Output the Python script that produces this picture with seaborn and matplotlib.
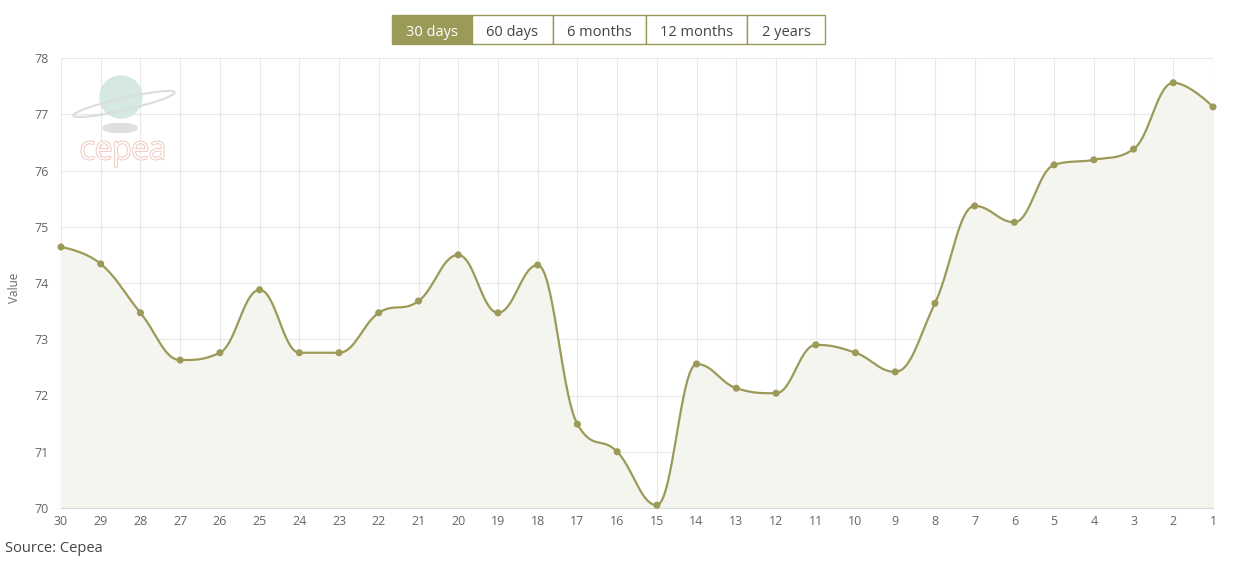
import numpy as np
import pandas as pd
import matplotlib
matplotlib.use("Agg")
import matplotlib.pyplot as plt
import matplotlib.patheffects as pe
from matplotlib.patches import Rectangle, Circle, Ellipse
import seaborn as sns

# data (days back from today)
days = [30, 29, 28, 27, 26, 25, 24, 23, 22, 21, 20, 19, 18, 17, 16,
        15, 14, 13, 12, 11, 10, 9, 8, 7, 6, 5, 4, 3, 2, 1]
values = [74.64, 74.34, 73.47, 72.63, 72.76, 73.88, 72.76, 72.76, 73.47, 73.68,
          74.50, 73.47, 74.32, 71.49, 71.00, 70.05, 72.56, 72.13, 72.04, 72.90,
          72.76, 72.42, 73.64, 75.37, 75.08, 76.10, 76.19, 76.38, 77.56, 77.13]
buttons = ["30 days", "60 days", "6 months", "12 months", "2 years"]
y_ticks = [70, 71, 72, 73, 74, 75, 76, 77, 78]

OLIVE = "#9c9a58"
GRID = "#e8e8e8"
TEXT = "#666666"


def spline_path(xs, ys, smoothing=1.5, n=20):
    # highcharts-like spline through the points
    denom = smoothing + 1
    m = len(xs)
    lc = [(xs[i], ys[i]) for i in range(m)]
    rc = [(xs[i], ys[i]) for i in range(m)]
    for i in range(1, m - 1):
        x, y = xs[i], ys[i]
        lx, ly = xs[i - 1], ys[i - 1]
        nx, ny = xs[i + 1], ys[i + 1]
        lcx = (smoothing * x + lx) / denom
        lcy = (smoothing * y + ly) / denom
        rcx = (smoothing * x + nx) / denom
        rcy = (smoothing * y + ny) / denom
        corr = (rcy - lcy) * (rcx - x) / (rcx - lcx) + y - rcy
        lcy += corr
        rcy += corr
        if lcy > ly and lcy > y:
            lcy = max(ly, y)
            rcy = 2 * y - lcy
        elif lcy < ly and lcy < y:
            lcy = min(ly, y)
            rcy = 2 * y - lcy
        if rcy > ny and rcy > y:
            rcy = max(ny, y)
            lcy = 2 * y - rcy
        elif rcy < ny and rcy < y:
            rcy = min(ny, y)
            lcy = 2 * y - rcy
        lc[i] = (lcx, lcy)
        rc[i] = (rcx, rcy)
    t = np.linspace(0, 1, n)
    px, py = [], []
    for i in range(m - 1):
        p0 = np.array([xs[i], ys[i]])
        p1 = np.array(rc[i])
        p2 = np.array(lc[i + 1])
        p3 = np.array([xs[i + 1], ys[i + 1]])
        seg = ((1 - t) ** 3)[:, None] * p0 + (3 * (1 - t) ** 2 * t)[:, None] * p1 \
            + (3 * (1 - t) * t ** 2)[:, None] * p2 + (t ** 3)[:, None] * p3
        if i > 0:
            seg = seg[1:]
        px.extend(seg[:, 0])
        py.extend(seg[:, 1])
    return np.array(px), np.array(py)


sns.set_style("white")
plt.rcParams["font.family"] = ["Open Sans", "DejaVu Sans"]

fig = plt.figure(figsize=(12.41, 5.76), dpi=100)
ax = fig.add_axes([61 / 1241, 1 - 508 / 576, (1213 - 61) / 1241, (508 - 58) / 576])

pos = np.arange(len(days))
df = pd.DataFrame({"pos": pos, "value": values})
sx, sy = spline_path(pos.astype(float), np.array(values, dtype=float))
smooth = pd.DataFrame({"pos": sx, "value": sy})

ax.fill_between(sx, sy, 70, color="#f5f5f0", zorder=1)
sns.lineplot(data=smooth, x="pos", y="value", color=OLIVE, lw=1.6, ax=ax, zorder=3, sort=False)
sns.scatterplot(data=df, x="pos", y="value", color=OLIVE, s=26, edgecolor="none", ax=ax,
                zorder=4, clip_on=False)

ax.set_xlim(0, len(days) - 1)
ax.set_ylim(70, 78)
ax.set_xticks(pos)
ax.set_xticklabels([str(d) for d in days])
ax.set_yticks(y_ticks)
ax.grid(True, color=GRID, lw=0.8, zorder=0)
ax.set_axisbelow(True)
for s in ["top", "right", "left"]:
    ax.spines[s].set_visible(False)
ax.spines["bottom"].set_color("#d8d8d8")
ax.tick_params(axis="x", colors=TEXT, labelsize=9, length=4, width=0.8, pad=1)
ax.tick_params(axis="y", colors=TEXT, labelsize=9, length=5, width=0.8, pad=4)
for t in ax.get_xticklines() + ax.get_yticklines():
    t.set_color("#d8d8d8")
ax.set_xlabel("")
ax.set_ylabel("Value", color=TEXT, fontsize=8.5, labelpad=6)
ax.yaxis.set_label_coords(-0.035, 0.49)

# range buttons
edges = [392, 472, 553, 646, 747, 825]
for i, lab in enumerate(buttons):
    x0, x1 = edges[i], edges[i + 1]
    fc = OLIVE if i == 0 else "white"
    fig.patches.append(Rectangle((x0 / 1241, 1 - 44 / 576), (x1 - x0) / 1241, 29 / 576,
                                 transform=fig.transFigure, fc=fc, ec=OLIVE, lw=1))
    fig.text((x0 + x1) / 2 / 1241, 1 - 32 / 576, lab, ha="center", va="center",
             fontsize=10.5, color="white" if i == 0 else "#444444")

# faint cepea logo
lax = fig.add_axes([70 / 1241, 1 - 165 / 576, 110 / 1241, 100 / 576])
lax.set_xlim(70, 180)
lax.set_ylim(165, 65)
lax.axis("off")
lax.add_patch(Ellipse((120, 128), 34, 9, color="#dcdcdc", alpha=0.9))
lax.add_patch(Circle((121, 97), 21, color="#d3e8df", alpha=0.95))
lax.add_patch(Ellipse((124, 104), 104, 12, angle=-13, fill=False, ec="#d8dedb", lw=1.5))
txt = lax.text(123, 151, "cepea", ha="center", va="center", fontsize=23, color="white",
               fontweight="light")
txt.set_path_effects([pe.withStroke(linewidth=1.6, foreground="#f0c6bd"),
                      pe.Normal()])

fig.text(5 / 1241, 1 - 549 / 576, "Source: Cepea", ha="left", va="center",
         fontsize=10.5, color="#444444")

fig.savefig("out.png", dpi=100)
